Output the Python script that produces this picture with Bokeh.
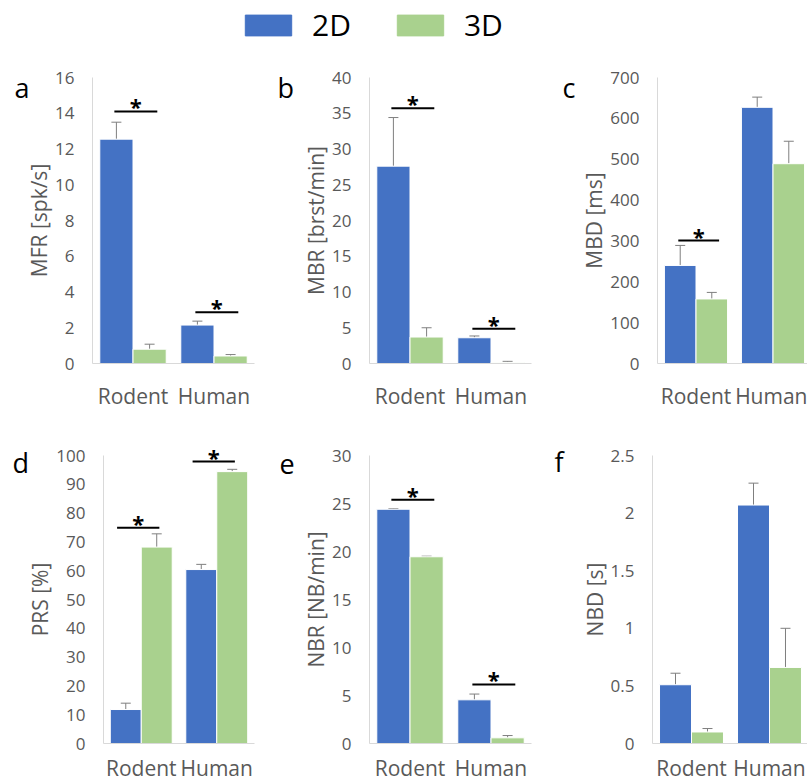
import numpy as np
from bokeh.plotting import figure
from bokeh.layouts import column, row
from bokeh.models import (Range1d, ColumnDataSource, Whisker, TeeHead, Legend, LegendItem,
                          SingleIntervalTicker, FixedTicker, NumeralTickFormatter)
from bokeh.core.properties import value
from bokeh.embed import file_html
from bokeh.resources import INLINE

categories = ["Rodent", "Human"]
series = ["2D", "3D"]
colors = {"2D": "#4472C4", "3D": "#A9D18E"}

# panel data: means and upward error (SEM)
mfr_2d = [12.55, 2.15]; mfr_2d_err = [0.95, 0.22]
mfr_3d = [0.80, 0.42];  mfr_3d_err = [0.28, 0.08]
mbr_2d = [27.6, 3.6];   mbr_2d_err = [6.8, 0.25]
mbr_3d = [3.7, 0.15];   mbr_3d_err = [1.3, 0.15]
mbd_2d = [240, 627];    mbd_2d_err = [49, 25]
mbd_3d = [158, 489];    mbd_3d_err = [16, 55]
prs_2d = [11.8, 60.4];  prs_2d_err = [2.2, 1.8]
prs_3d = [68.2, 94.4];  prs_3d_err = [4.6, 0.8]
nbr_2d = [24.4, 4.55];  nbr_2d_err = [0.06, 0.6]
nbr_3d = [19.45, 0.59]; nbr_3d_err = [0.06, 0.24]
nbd_2d = [0.51, 2.07];  nbd_2d_err = [0.10, 0.19]
nbd_3d = [0.10, 0.66];  nbd_3d_err = [0.03, 0.34]

# significance brackets: (category index, level)
mfr_sig = [(0, 14.1), (1, 2.87)]
mbr_sig = [(0, 35.7), (1, 4.85)]
mbd_sig = [(0, 301)]
prs_sig = [(0, 74.9), (1, 97.9)]
nbr_sig = [(0, 25.4), (1, 6.15)]
nbd_sig = []

y_titles = ["MFR [spk/s]", "MBR [brst/min]", "MBD [ms]", "PRS [%]", "NBR [NB/min]", "NBD [s]"]
y_max = [16, 40, 700, 100, 30, 2.5]
y_step = [2, 5, 100, 10, 5, 0.5]
letters = ["a", "b", "c", "d", "e", "f"]

FONT = "Open Sans"
GRAY = "#595959"
BAR_W = 0.41
OFF = 0.205


def panel(i, m2, e2, m3, e3, sig, box, axis_px, cat_px, plot_top, plot_bottom, letter_xy,
          cat_standoff, sig_off=(-0.23, 0.30)):
    # box: (left, right, top, bottom) of the figure in page pixels
    L, R, T, B = box
    x0 = -0.5 - (axis_px - L) / cat_px
    x1 = -0.5 + (R - axis_px) / cat_px
    py = (plot_bottom - plot_top) / y_max[i]
    y1 = y_max[i] + (plot_top - T) / py
    y0 = -(B - plot_bottom) / py
    p = figure(frame_width=R - L, frame_height=B - T, x_range=Range1d(x0, x1),
               y_range=Range1d(y0, y1), output_backend="svg", toolbar_location=None,
               min_border=0)
    p.outline_line_color = None
    p.xgrid.visible = False
    p.ygrid.visible = False
    idx = np.arange(len(categories))
    for s, m, e, sign in (("2D", m2, e2, -1), ("3D", m3, e3, 1)):
        m = np.array(m, dtype=float)
        e = np.array(e, dtype=float)
        src = ColumnDataSource(dict(x=idx + sign * OFF, top=m, up=m + e))
        p.vbar(x="x", top="top", width=BAR_W, source=src, fill_color=colors[s],
               line_color="white", line_width=1)
        w = Whisker(source=src, base="x", lower="top", upper="up", dimension="height",
                    line_color="#7f7f7f", line_width=1, lower_head=None,
                    upper_head=TeeHead(size=10, line_color="#7f7f7f", line_width=1))
        p.add_layout(w)
    for (c, lvl) in sig:
        xa = c + sig_off[0]
        xb = c + sig_off[1]
        p.segment(x0=[xa], y0=[lvl], x1=[xb], y1=[lvl], line_color="black", line_width=2)
        p.text(x=[(xa + xb) / 2], y=[lvl], text=["*"], text_align="center",
               text_baseline="alphabetic", text_font=value(FONT), text_font_size="22px",
               text_font_style="bold", text_color="black", y_offset=-5)
    # x axis drawn at y = 0
    xa_ = p.xaxis[0]
    xa_.fixed_location = 0
    xa_.bounds = (-0.5, min(x1, 1.5))
    xa_.ticker = FixedTicker(ticks=list(idx))
    xa_.major_label_overrides = {int(k): name for k, name in enumerate(categories)}
    xa_.axis_line_color = "#d9d9d9"
    xa_.major_tick_line_color = None
    xa_.minor_tick_line_color = None
    xa_.major_tick_out = 0
    xa_.major_tick_in = 0
    xa_.major_label_standoff = cat_standoff
    xa_.major_label_text_font = FONT
    xa_.major_label_text_font_size = "21px"
    xa_.major_label_text_color = GRAY
    # y axis drawn at x = -0.5
    ya = p.yaxis[0]
    ya.fixed_location = -0.5
    ya.bounds = (0, y_max[i])
    ya.ticker = SingleIntervalTicker(interval=y_step[i])
    ya.formatter = NumeralTickFormatter(format="0.[0]")
    ya.axis_line_color = "#d9d9d9"
    ya.major_tick_line_color = None
    ya.minor_tick_line_color = None
    ya.major_tick_out = 0
    ya.major_tick_in = 0
    ya.major_label_standoff = 14
    ya.major_label_text_font = FONT
    ya.major_label_text_font_size = "17px"
    ya.major_label_text_color = GRAY
    ya.axis_label = y_titles[i]
    ya.axis_label_text_font = FONT
    ya.axis_label_text_font_size = "21px"
    ya.axis_label_text_font_style = "normal"
    ya.axis_label_text_color = GRAY
    ya.axis_label_standoff = -1
    # panel letter
    lx, ly = letter_xy
    p.text(x=[x0], y=[y1], text=[letters[i]], x_offset=lx - L, y_offset=ly - T,
           text_align="left", text_baseline="alphabetic", text_font=value(FONT),
           text_font_size="27px", text_color="black")
    return p


pa = panel(0, mfr_2d, mfr_2d_err, mfr_3d, mfr_3d_err, mfr_sig, (0, 266, 50, 420), 92, 81, 77, 363, (14, 87), 18)
pb = panel(1, mbr_2d, mbr_2d_err, mbr_3d, mbr_3d_err, mbr_sig, (266, 550, 50, 420), 369, 81, 77, 363, (277, 87), 18)
pc = panel(2, mbd_2d, mbd_2d_err, mbd_3d, mbd_3d_err, mbd_sig, (550, 807, 50, 420), 657, 77, 77, 363, (562, 87), 18)
pd = panel(3, prs_2d, prs_2d_err, prs_3d, prs_3d_err, prs_sig, (0, 266, 420, 782), 103, 75.5, 455, 743, (12, 462), 10,
           sig_off=(-0.32, 0.24))
pe = panel(4, nbr_2d, nbr_2d_err, nbr_3d, nbr_3d_err, nbr_sig, (266, 548, 420, 782), 369, 81, 455, 743, (279, 463), 10)
pf = panel(5, nbd_2d, nbd_2d_err, nbd_3d, nbd_3d_err, nbd_sig, (548, 807, 420, 782), 652, 78, 455, 743, (554, 461), 10)

# legend strip
lg = figure(width=807, height=50, x_range=Range1d(0, 1), y_range=Range1d(0, 1),
            x_axis_type=None, y_axis_type=None, output_backend="svg", toolbar_location=None,
            min_border=0)
lg.outline_line_color = None
lg.xgrid.visible = False
lg.ygrid.visible = False
items = []
for s in series:
    r = lg.rect(x=[0.5], y=[0.5], width=0.1, height=0.1, fill_color=colors[s], line_color=colors[s],
                visible=False)
    items.append(LegendItem(label=s, renderers=[r]))
legend = Legend(items=items, orientation="horizontal", location=(239, 5),
                glyph_width=58, glyph_height=26, label_standoff=15, spacing=40,
                padding=0, margin=0, border_line_color=None, background_fill_alpha=0,
                inactive_fill_alpha=0,
                label_text_font=FONT, label_text_font_size="30px", label_text_color="black")
lg.add_layout(legend)

layout = column(lg, row(pa, pb, pc), row(pd, pe, pf))

open("out.html", "w").write(file_html(layout, INLINE))
